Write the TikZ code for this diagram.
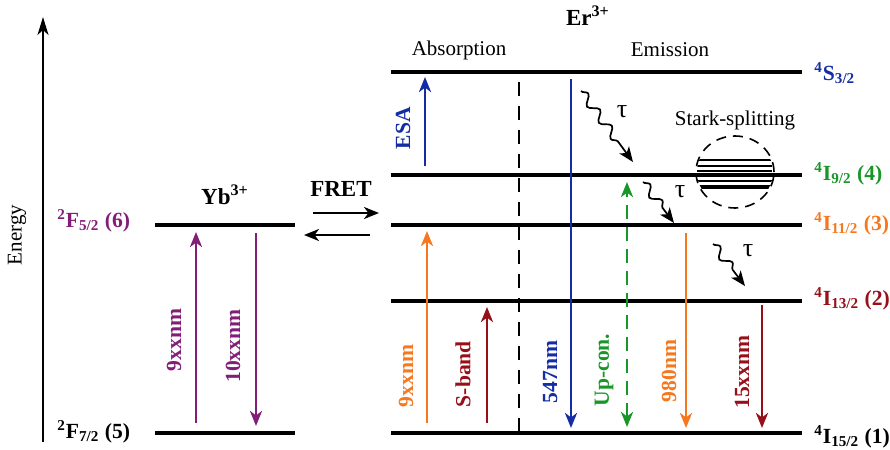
\documentclass[tikz,border=0pt]{standalone}
\usepackage{fontspec}
\setmainfont{Liberation Serif}
\usetikzlibrary{arrows.meta,decorations.pathmorphing,shapes.geometric}

\definecolor{ybpurple}{RGB}{130,30,120}
\definecolor{erblue}{RGB}{20,45,165}
\definecolor{erorange}{RGB}{245,120,30}
\definecolor{erred}{RGB}{150,15,25}
\definecolor{ergreen}{RGB}{25,150,40}

\tikzset{
  level/.style={line width=1.55pt},
  tip/.style={-{Stealth[length=7.5pt,width=6pt,inset=2.2pt]}},
  trans/.style={line width=1.35pt,tip},
  lbl/.style={font=\fontsize{10.5}{12}\selectfont\bfseries},
  vlbl/.style={font=\fontsize{10.8}{12}\selectfont\bfseries,rotate=90},
  txt/.style={font=\fontsize{10.5}{12}\selectfont},
  term/.style={font=\fontsize{10.8}{13}\selectfont\bfseries,anchor=west,inner sep=1pt},
  relax/.style={line width=0.85pt,decorate,decoration={snake,amplitude=2.2pt,segment length=10pt,post length=8pt},
    -{Stealth[length=7.5pt,width=6pt,inset=2pt]}},
}

\begin{document}
\begin{tikzpicture}[x=0.5pt,y=-0.5pt]
\useasboundingbox (0,0) rectangle (890,450);

% energy axis
\coordinate (axlo) at (43,442);
\coordinate (axhi) at (43,17);
\draw[line width=1pt,-{Stealth[length=9pt,width=5.5pt,inset=2.5pt]}] (axlo) -- (axhi);
\node[txt,rotate=90] (energy) at (17,235) {Energy};

% Yb3+ levels
\coordinate (yb6l) at (155,225); \coordinate (yb6r) at (295,225);
\coordinate (yb5l) at (155,433); \coordinate (yb5r) at (295,433);
\draw[level] (yb6l) -- (yb6r);
\draw[level] (yb5l) -- (yb5r);
\node[lbl,font=\fontsize{11.5}{14}\selectfont\bfseries] (yb) at (225,195) {Yb\textsuperscript{3+}};
\node[term,text=ybpurple] (f52) at (55,221) {\textsuperscript{2}F\textsubscript{5/2} (6)};
\node[term] (f72) at (55,432) {\textsuperscript{2}F\textsubscript{7/2} (5)};

% Yb3+ transitions
\coordinate (ybua) at (196,423); \coordinate (ybub) at (196,232);
\coordinate (ybda) at (256,233); \coordinate (ybdb) at (256,426);
\draw[trans,ybpurple] (ybua) -- (ybub);
\draw[trans,ybpurple] (ybda) -- (ybdb);
\node[vlbl,text=ybpurple] (yb9) at (174,340) {9xxnm};
\node[vlbl,text=ybpurple] (yb10) at (233,346) {10xxnm};

% energy transfer
\node[lbl,font=\fontsize{11.5}{13}\selectfont\bfseries] (fret) at (341,189) {FRET};
\coordinate (fra) at (313,213); \coordinate (frb) at (379,213);
\coordinate (fla) at (370,235); \coordinate (flb) at (304,235);
\draw[trans,line width=1.2pt] (fra) -- (frb);
\draw[trans,line width=1.2pt] (fla) -- (flb);

% Er3+ levels
\foreach \n/\y in {s32/72,i92/175,i112/225,i132/301,i152/433}{
  \coordinate (\n l) at (391,\y);
  \coordinate (\n r) at (802,\y);
  \draw[level] (\n l) -- (\n r);
}
\node[lbl,font=\fontsize{11.5}{14}\selectfont\bfseries] (er) at (588,16) {Er\textsuperscript{3+}};
\node[txt] (abs) at (459,50) {Absorption};
\node[txt] (emi) at (670,50) {Emission};

\node[term,text=erblue] (ts) at (812,73) {\textsuperscript{4}S\textsubscript{3/2}};
\node[term,text=ergreen] (t4) at (812,174) {\textsuperscript{4}I\textsubscript{9/2} (4)};
\node[term,text=erorange] (t3) at (812,224) {\textsuperscript{4}I\textsubscript{11/2} (3)};
\node[term,text=erred] (t2) at (812,299) {\textsuperscript{4}I\textsubscript{13/2} (2)};
\node[term] (t1) at (812,437) {\textsuperscript{4}I\textsubscript{15/2} (1)};

% absorption / emission divider
\coordinate (diva) at (519,82); \coordinate (divb) at (519,433);
\draw[line width=0.8pt,dash pattern=on 7pt off 5pt] (diva) -- (divb);

% absorption side
\coordinate (esaa) at (425,166); \coordinate (esab) at (425,77);
\draw[trans,erblue] (esaa) -- (esab);
\node[vlbl,text=erblue] (esa) at (403,128) {ESA};

\coordinate (o9a) at (427,423); \coordinate (o9b) at (427,231);
\draw[trans,erorange] (o9a) -- (o9b);
\node[vlbl,text=erorange] (o9) at (406,376) {9xxnm};

\coordinate (sba) at (487,423); \coordinate (sbb) at (487,307);
\draw[trans,erred] (sba) -- (sbb);
\node[vlbl,text=erred] (sb) at (463,374) {S-band};

% emission side
\coordinate (g5a) at (571,79); \coordinate (g5b) at (571,428);
\draw[trans,erblue] (g5a) -- (g5b);
\node[vlbl,text=erblue] (g5) at (550,372) {547nm};

\coordinate (upa) at (627,182); \coordinate (upb) at (627,427);
\draw[line width=1.35pt,ergreen,dash pattern=on 7pt off 4pt,{Stealth[length=7.5pt,width=6pt,inset=2.2pt]}-{Stealth[length=7.5pt,width=6pt,inset=2.2pt]}] (upb) -- (upa);
\node[vlbl,text=ergreen] (up) at (604,370) {Up-con.};

\coordinate (o98a) at (686,233); \coordinate (o98b) at (686,428);
\draw[trans,erorange] (o98a) -- (o98b);
\node[vlbl,text=erorange] (o98) at (669,371) {980nm};

\coordinate (r15a) at (762,305); \coordinate (r15b) at (762,428);
\draw[trans,erred] (r15a) -- (r15b);
\node[vlbl,text=erred] (r15) at (742,372) {15xxnm};

% non-radiative relaxations
\coordinate (w1a) at (581,91); \coordinate (w1b) at (633,162);
\coordinate (w2a) at (643,182); \coordinate (w2b) at (674,223);
\coordinate (w3a) at (713,244); \coordinate (w3b) at (745,286);
\draw[relax] (w1a) -- (w1b);
\draw[relax] (w2a) -- (w2b);
\draw[relax] (w3a) -- (w3b);
\node[txt,font=\fontsize{13}{14}\selectfont] (tau1) at (622,112) {τ};
\node[txt,font=\fontsize{13}{14}\selectfont] (tau2) at (680,192) {τ};
\node[txt,font=\fontsize{13}{14}\selectfont] (tau3) at (748,251) {τ};

% Stark splitting of the 4I9/2 manifold
\node[txt] (stark) at (735,120) {Stark-splitting};
\node[draw,ellipse,line width=0.8pt,dash pattern=on 5pt off 3.5pt,minimum width=39pt,minimum height=36pt,inner sep=0pt] (starkc) at (735,172) {};
\begin{scope}
  \clip (735,172) ellipse [x radius=19pt,y radius=17.5pt];
  \foreach \y in {160,166,171,181}{
    \draw[line width=0.8pt] (690,\y) -- (772,\y);
  }
  \draw[line width=2pt] (690,187) -- (772,187);
\end{scope}
\end{tikzpicture}
\end{document}
